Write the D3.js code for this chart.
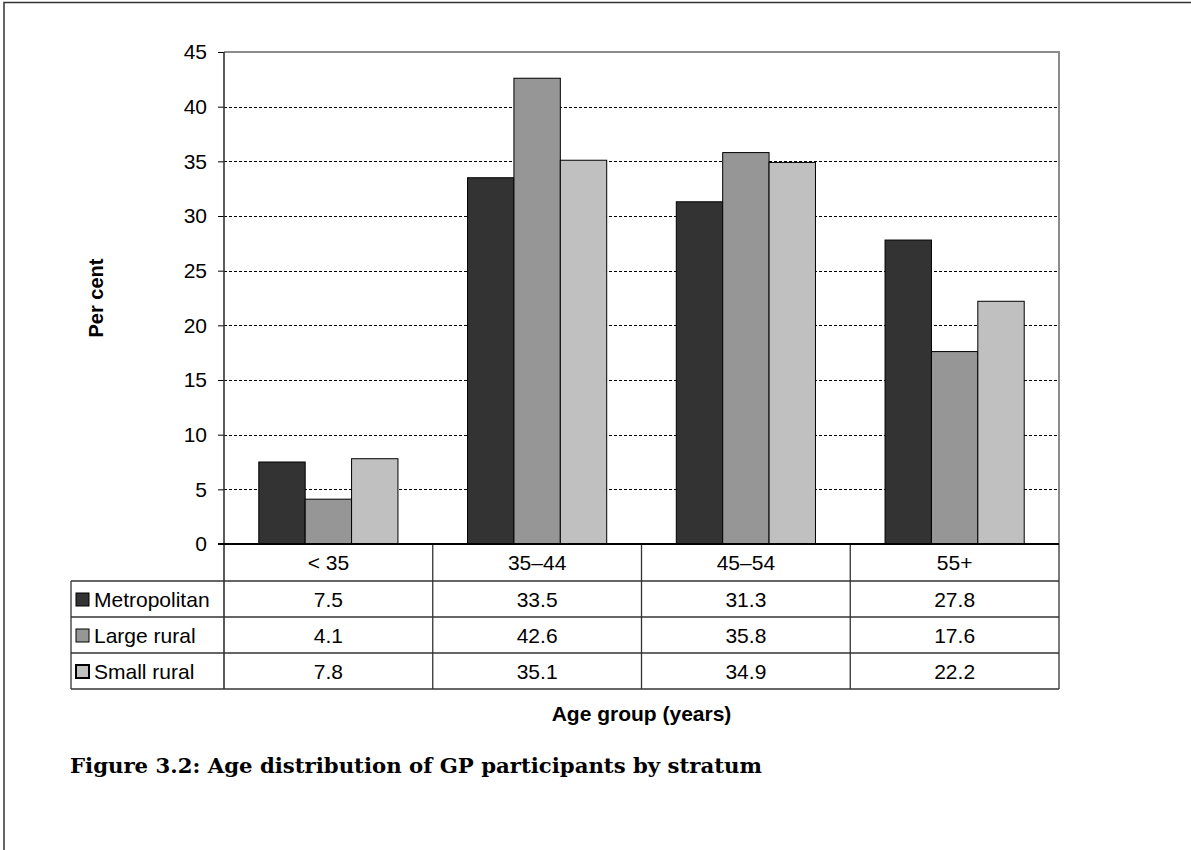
<!DOCTYPE html>
<html>
<head>
<meta charset="utf-8">
<script src="https://cdn.jsdelivr.net/npm/d3@7"></script>
<style>
  html, body { margin: 0; padding: 0; background: #fff; }
  svg { display: block; }
  text { font-family: Arial, "Liberation Sans", sans-serif; fill: #000; }
</style>
</head>
<body>
<svg id="chart" width="1191" height="850"></svg>
<script>
// Age groups and strata
const categories = ["< 35", "35\u201344", "45\u201354", "55+"];
const seriesNames = ["Metropolitan", "Large rural", "Small rural"];
const metropolitan = [7.5, 33.5, 31.3, 27.8];
const largeRural = [4.1, 42.6, 35.8, 17.6];
const smallRural = [7.8, 35.1, 34.9, 22.2];
const yTicks = [0, 5, 10, 15, 20, 25, 30, 35, 40, 45];
const seriesColors = ["#333333", "#969696", "#c0c0c0"];

const seriesValues = [metropolitan, largeRural, smallRural];

const svg = d3.select("#chart");
svg.append("rect").attr("width", 1191).attr("height", 850).attr("fill", "#fff");

// page frame (top and left edges)
svg.append("path")
  .attr("d", "M4,850 V2.5 H1191")
  .attr("fill", "none").attr("stroke", "#333").attr("stroke-width", 1.5);

const plot = { left: 224, right: 1059, top: 52, bottom: 544 };
const tableLeft = 71;
const rowEdges = [544, 581, 617, 653, 689];

const x = d3.scaleBand().domain(categories).range([plot.left, plot.right]).padding(0);
const bw = x.bandwidth() / 4.5;
const xs = d3.scaleBand().domain(seriesNames).range([0, 3 * bw]).padding(0);
const y = d3.scaleLinear().domain([0, 45]).range([plot.bottom, plot.top]);

// gridlines
svg.append("g").selectAll("line")
  .data(yTicks.filter(t => t > 0 && t < 45))
  .join("line")
  .attr("x1", plot.left).attr("x2", plot.right)
  .attr("y1", d => Math.round(y(d)) + 0.5).attr("y2", d => Math.round(y(d)) + 0.5)
  .attr("stroke", "#000").attr("stroke-width", 1)
  .attr("stroke-dasharray", "3,2");

// plot area border (top and right)
svg.append("path")
  .attr("d", `M${plot.left},${plot.top} H${plot.right} V${plot.bottom}`)
  .attr("fill", "none").attr("stroke", "#8c8c8c").attr("stroke-width", 2);

// bars
const groups = svg.append("g").selectAll("g")
  .data(categories)
  .join("g")
  .attr("transform", c => `translate(${x(c) + 0.75 * bw},0)`);

groups.selectAll("rect")
  .data((c, i) => seriesNames.map((s, j) => ({ s, j, v: seriesValues[j][i] })))
  .join("rect")
  .attr("x", d => xs(d.s))
  .attr("width", xs.bandwidth())
  .attr("y", d => y(d.v))
  .attr("height", d => y(0) - y(d.v))
  .attr("fill", d => seriesColors[d.j])
  .attr("stroke", "#000").attr("stroke-width", 1);

// y axis
const yAxis = d3.axisLeft(y).tickValues(yTicks).tickSize(6).tickPadding(11).tickFormat(d3.format("d"));
const ya = svg.append("g").attr("transform", `translate(${plot.left},0)`).call(yAxis);
ya.select(".domain").remove();
ya.selectAll(".tick line").attr("stroke", "#000").attr("stroke-width", 1);
ya.selectAll(".tick text")
  .attr("font-size", 21).attr("font-family", "Arial, 'Liberation Sans', sans-serif")
  .attr("fill", "#000");

// data table lines
const table = svg.append("g").attr("stroke", "#333").attr("stroke-width", 1.3);
// axis / left boundary of value columns
table.append("line").attr("x1", plot.left).attr("x2", plot.left)
  .attr("y1", plot.top).attr("y2", rowEdges[4]).attr("stroke-width", 1.6);
// column dividers and right edge
table.selectAll(".col").data(categories.slice(1).map(c => x(c)).concat([plot.right]))
  .join("line").attr("class", "col")
  .attr("x1", d => d).attr("x2", d => d)
  .attr("y1", rowEdges[0]).attr("y2", rowEdges[4]);
// row lines
table.selectAll(".row").data(rowEdges.slice(1))
  .join("line").attr("class", "row")
  .attr("x1", tableLeft).attr("x2", plot.right)
  .attr("y1", d => d).attr("y2", d => d);
// left edge of series label column
table.append("line").attr("x1", tableLeft).attr("x2", tableLeft)
  .attr("y1", rowEdges[1]).attr("y2", rowEdges[4]);
// category axis line
svg.append("line").attr("x1", plot.left - 6).attr("x2", plot.right)
  .attr("y1", plot.bottom).attr("y2", plot.bottom)
  .attr("stroke", "#000").attr("stroke-width", 2);

// category labels
svg.append("g").selectAll("text").data(categories).join("text")
  .attr("x", c => x(c) + x.bandwidth() / 2)
  .attr("y", (rowEdges[0] + rowEdges[1]) / 2 + 7.5)
  .attr("text-anchor", "middle").attr("font-size", 21)
  .text(c => c);

// series rows: legend keys, names and values
seriesNames.forEach((s, j) => {
  const top = rowEdges[j + 1], bot = rowEdges[j + 2];
  const mid = (top + bot) / 2;
  svg.append("rect")
    .attr("x", 76).attr("y", mid - 6)
    .attr("width", 13).attr("height", 13)
    .attr("fill", seriesColors[j]).attr("stroke", "#000").attr("stroke-width", j === 2 ? 2 : 1);
  svg.append("text").attr("x", 94).attr("y", mid + 7.5)
    .attr("font-size", 21).text(s);
  svg.append("g").selectAll("text").data(seriesValues[j]).join("text")
    .attr("x", (v, i) => x(categories[i]) + x.bandwidth() / 2)
    .attr("y", mid + 7.5)
    .attr("text-anchor", "middle").attr("font-size", 21)
    .text(v => d3.format(".1f")(v));
});

// axis titles
svg.append("text")
  .attr("transform", `translate(103,${(plot.top + plot.bottom) / 2}) rotate(-90)`)
  .attr("text-anchor", "middle").attr("font-size", 20).attr("font-weight", "bold")
  .text("Per cent");

svg.append("text")
  .attr("x", (plot.left + plot.right) / 2).attr("y", 721)
  .attr("text-anchor", "middle").attr("font-size", 21).attr("font-weight", "bold")
  .text("Age group (years)");

// figure caption
svg.append("text")
  .attr("x", 70).attr("y", 773)
  .attr("font-size", 20).attr("font-weight", "bold")
  .attr("textLength", 692).attr("lengthAdjust", "spacingAndGlyphs")
  .style("font-family", "'Book Antiqua', 'Palatino Linotype', Palatino, 'DejaVu Serif', serif")
  .text("Figure 3.2: Age distribution of GP participants by stratum");
</script>
</body>
</html>
